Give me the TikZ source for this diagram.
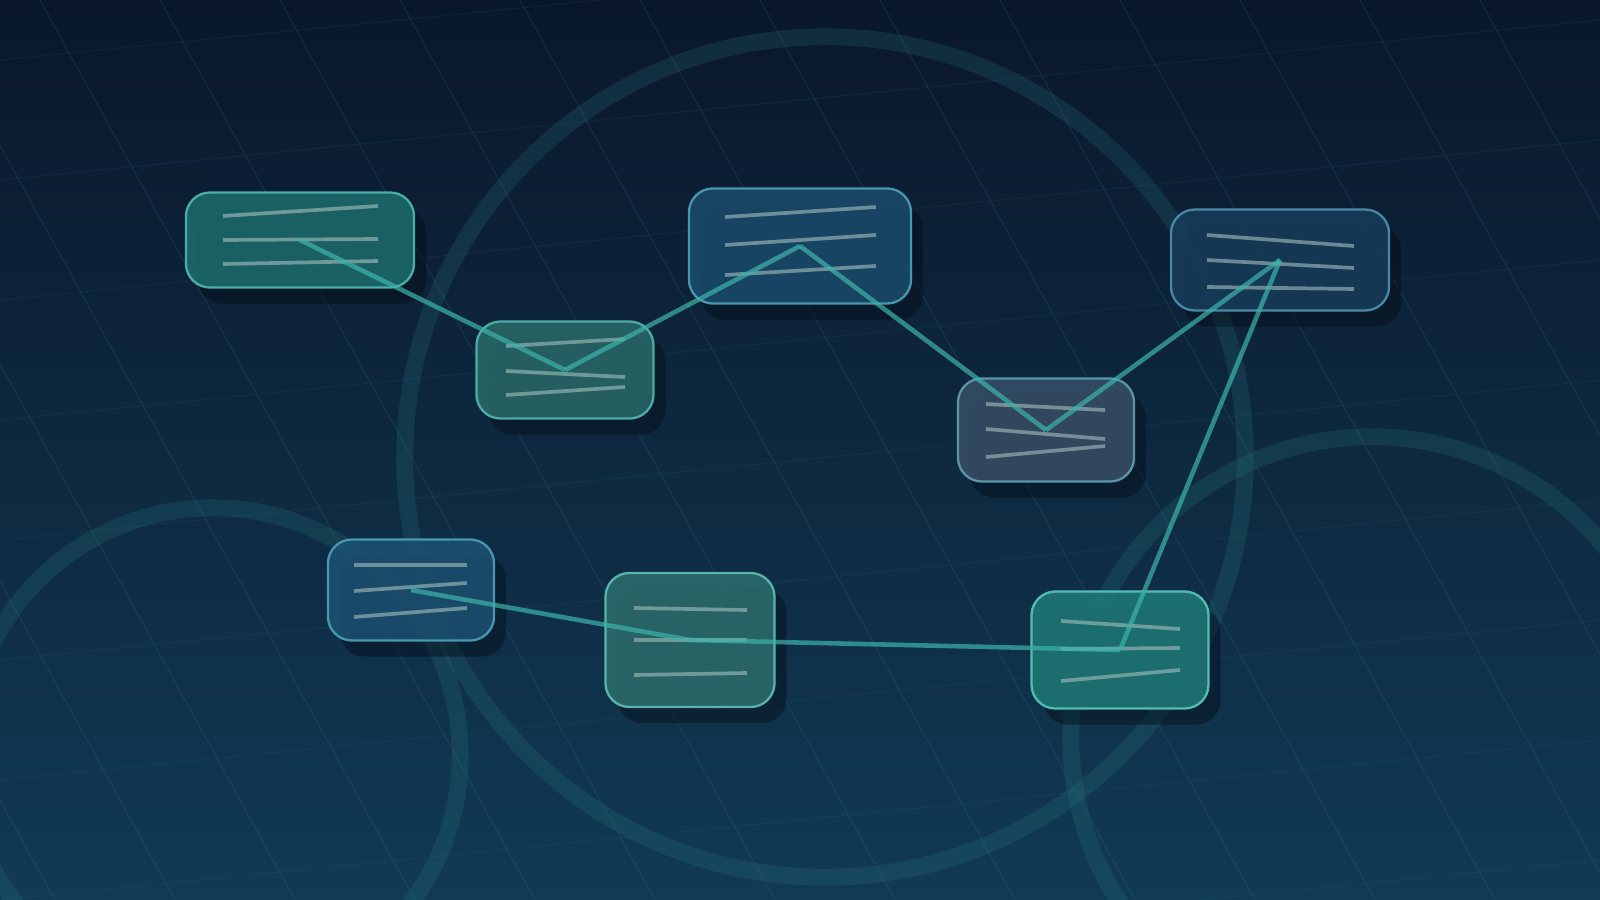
\documentclass[tikz,border=0pt]{standalone}
\usetikzlibrary{shadows}
\definecolor{bgtop}{HTML}{0A172A}
\definecolor{bgmid}{HTML}{0E2A42}
\definecolor{bgbot}{HTML}{113A54}
\definecolor{gridc}{HTML}{3A7A90}
\definecolor{ringc}{HTML}{2A7C82}
\definecolor{edgec}{HTML}{3EB4AB}
\definecolor{txtc}{HTML}{A0BCBC}
\definecolor{shadc}{HTML}{050D18}
\definecolor{fA}{HTML}{1D6D6D}\definecolor{dA}{HTML}{4CB4AC}
\definecolor{fB}{HTML}{2A6A6A}\definecolor{dB}{HTML}{50B2AA}
\definecolor{fC}{HTML}{1A4C6C}\definecolor{dC}{HTML}{4C9CB2}
\definecolor{fD}{HTML}{173D5C}\definecolor{dD}{HTML}{4C8EAA}
\definecolor{fE}{HTML}{384F66}\definecolor{dE}{HTML}{5C9CAC}
\definecolor{fF}{HTML}{1B5172}\definecolor{dF}{HTML}{4C9CB6}
\definecolor{fG}{HTML}{2C6E6D}\definecolor{dG}{HTML}{5CBAB2}
\definecolor{fH}{HTML}{1F7A77}\definecolor{dH}{HTML}{58C2B8}
\tikzset{
  nbox/.style={rectangle, rounded corners=0.24cm, line width=0.65pt, inner sep=0pt,
    fill opacity=0.86, draw opacity=0.95,
    drop shadow={shadow xshift=0.12cm, shadow yshift=-0.16cm, fill=shadc, opacity=0.45}},
  txtline/.style={draw=txtc, line width=1.05pt, opacity=0.62},
  link/.style={draw=edgec, line width=1.3pt, opacity=0.7},
  ring/.style={draw=ringc, line width=4.8pt, opacity=0.22},
  gridline/.style={draw=gridc, line width=0.3pt, opacity=0.2},
  hgridline/.style={draw=gridc, line width=0.3pt, opacity=0.12}
}
\begin{document}
\begin{tikzpicture}[x=0.01cm,y=-0.01cm]
\useasboundingbox (0,0) rectangle (1600,900);
\shade[top color=bgtop, middle color=bgmid, bottom color=bgbot] (0,0) rectangle (1600,900);
\begin{scope}
  \clip (0,0) rectangle (1600,900);
  \foreach \i in {-5,...,13}{
    \draw[gridline] ({40+120*\i},0) -- ({535+120*\i},900);
  }
  \foreach \k in {0,...,9}{
    \draw[hgridline] (0,{60+120*\k}) -- (1600,{-100+120*\k});
  }
  \draw[ring] (825,457) circle[radius=4.2cm];
  \draw[ring] (213,755) circle[radius=2.47cm];
  \draw[ring] (1372,738) circle[radius=3.01cm];
\end{scope}

% nodes
\node[nbox, fill=fA, draw=dA, minimum width=2.28cm, minimum height=0.95cm] (A) at (300,240) {};
\node[nbox, fill=fB, draw=dB, minimum width=1.77cm, minimum height=0.97cm] (B) at (565,370) {};
\node[nbox, fill=fC, draw=dC, minimum width=2.22cm, minimum height=1.15cm] (C) at (800,246) {};
\node[nbox, fill=fD, draw=dD, minimum width=2.18cm, minimum height=1.01cm] (D) at (1280,260) {};
\node[nbox, fill=fE, draw=dE, minimum width=1.76cm, minimum height=1.03cm] (E) at (1046,430) {};
\node[nbox, fill=fF, draw=dF, minimum width=1.66cm, minimum height=1.01cm] (F) at (411,590) {};
\node[nbox, fill=fG, draw=dG, minimum width=1.69cm, minimum height=1.34cm] (G) at (690,640) {};
\node[nbox, fill=fH, draw=dH, minimum width=1.77cm, minimum height=1.17cm] (H) at (1120,650) {};

% text lines
\draw[txtline] (223,216) -- (378,206);
\draw[txtline] (223,240) -- (378,239);
\draw[txtline] (223,264) -- (378,261);

\draw[txtline] (506,346) -- (625,339);
\draw[txtline] (506,371) -- (625,377);
\draw[txtline] (506,395) -- (625,387);

\draw[txtline] (725,217) -- (876,207);
\draw[txtline] (725,245) -- (876,235);
\draw[txtline] (725,275) -- (876,266);

\draw[txtline] (1207,235) -- (1354,246);
\draw[txtline] (1207,260) -- (1354,268);
\draw[txtline] (1207,287) -- (1354,289);

\draw[txtline] (986,404) -- (1105,410);
\draw[txtline] (986,429) -- (1105,439);
\draw[txtline] (986,457) -- (1105,446);

\draw[txtline] (354,565) -- (467,565);
\draw[txtline] (354,591) -- (467,583);
\draw[txtline] (354,617) -- (467,608);

\draw[txtline] (634,608) -- (747,610);
\draw[txtline] (634,640) -- (747,640);
\draw[txtline] (634,675) -- (747,673);

\draw[txtline] (1061,621) -- (1180,629);
\draw[txtline] (1061,649) -- (1180,648);
\draw[txtline] (1061,681) -- (1180,670);

% connectors
\draw[link] (A.center) -- (B.center);
\draw[link] (B.center) -- (C.center);
\draw[link] (C.center) -- (E.center);
\draw[link] (E.center) -- (D.center);
\draw[link] (D.center) -- (H.center);
\draw[link] (F.center) -- (G.center);
\draw[link] (G.center) -- (H.center);
\end{tikzpicture}
\end{document}
